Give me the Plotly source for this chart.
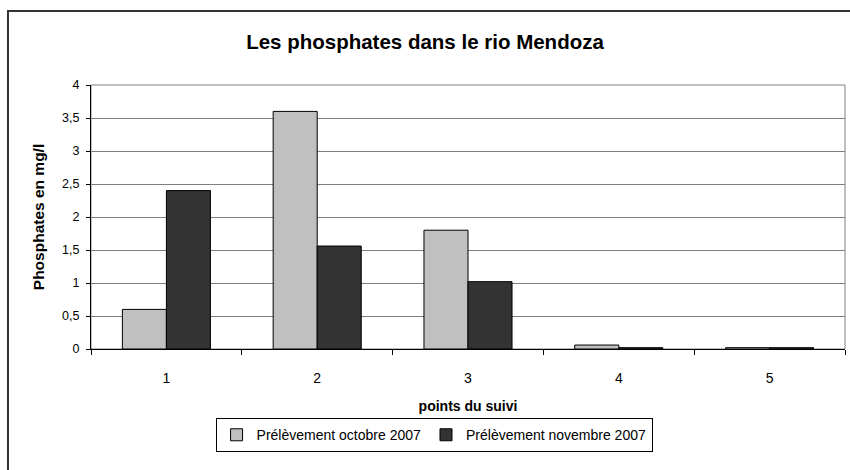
import plotly.graph_objects as go

# Monitoring points and phosphate concentrations (mg/l)
points = ["1", "2", "3", "4", "5"]
octobre_2007 = [0.6, 3.6, 1.8, 0.06, 0.02]
novembre_2007 = [2.4, 1.56, 1.02, 0.02, 0.02]
y_ticks = [0, 0.5, 1, 1.5, 2, 2.5, 3, 3.5, 4]

FONT = "Arial, Liberation Sans, sans-serif"

fig = go.Figure()
fig.add_trace(go.Bar(
    x=points, y=octobre_2007, name="Prélèvement octobre 2007",
    marker=dict(color="#c0c0c0", line=dict(color="#000000", width=1)),
))
fig.add_trace(go.Bar(
    x=points, y=novembre_2007, name="Prélèvement novembre 2007",
    marker=dict(color="#333333", line=dict(color="#000000", width=1)),
))

fig.update_layout(
    width=850, height=470,
    margin=dict(l=91, r=5, t=85, b=121),
    paper_bgcolor="white", plot_bgcolor="white",
    separators=", ",
    font=dict(family=FONT, size=14, color="#000000"),
    barmode="group", bargap=0.416, bargroupgap=0,
    title=dict(text="<b>Les phosphates dans le rio Mendoza</b>",
               x=0.5, xanchor="center", y=1 - 42 / 470, yanchor="middle",
               font=dict(size=20.5, family=FONT)),
    showlegend=True,
    legend=dict(orientation="h", x=0.455, xanchor="center", y=-0.262, yanchor="top",
                bordercolor="#000000", borderwidth=1, bgcolor="white",
                font=dict(size=14, family=FONT), itemwidth=30,
                tracegroupgap=0, traceorder="normal"),
    xaxis=dict(
        showline=True, linecolor="#000000", linewidth=1,
        ticks="outside", tickson="boundaries", ticklen=5, tickcolor="#000000",
        tickfont=dict(size=14), ticklabelstandoff=16,
        title=dict(text="<b>points du suivi</b>", standoff=16, font=dict(size=14)),
        showgrid=False,
    ),
    yaxis=dict(
        range=[0, 4], tickvals=y_ticks,
        showline=True, linecolor="#000000", linewidth=1,
        ticks="outside", ticklen=4, tickcolor="#000000",
        tickfont=dict(size=12.5), ticklabelstandoff=4,
        showgrid=True, gridcolor="#7f7f7f", gridwidth=1,
        zeroline=False,
        title=dict(text="<b>Phosphates en mg/l</b>", standoff=13, font=dict(size=15.5)),
    ),
    shapes=[
        # plot area frame
        dict(type="rect", xref="paper", yref="paper", x0=0, x1=1, y0=0, y1=1,
             line=dict(color="#808080", width=1), layer="below"),
        # outer chart frame (left and top edges visible)
        dict(type="path", xref="paper", yref="paper",
             path="M -0.1101,-0.6 L -0.1101,1.2803 L 1.2,1.2803",
             line=dict(color="#333333", width=2)),
    ],
)

fig.write_html("out.html")
